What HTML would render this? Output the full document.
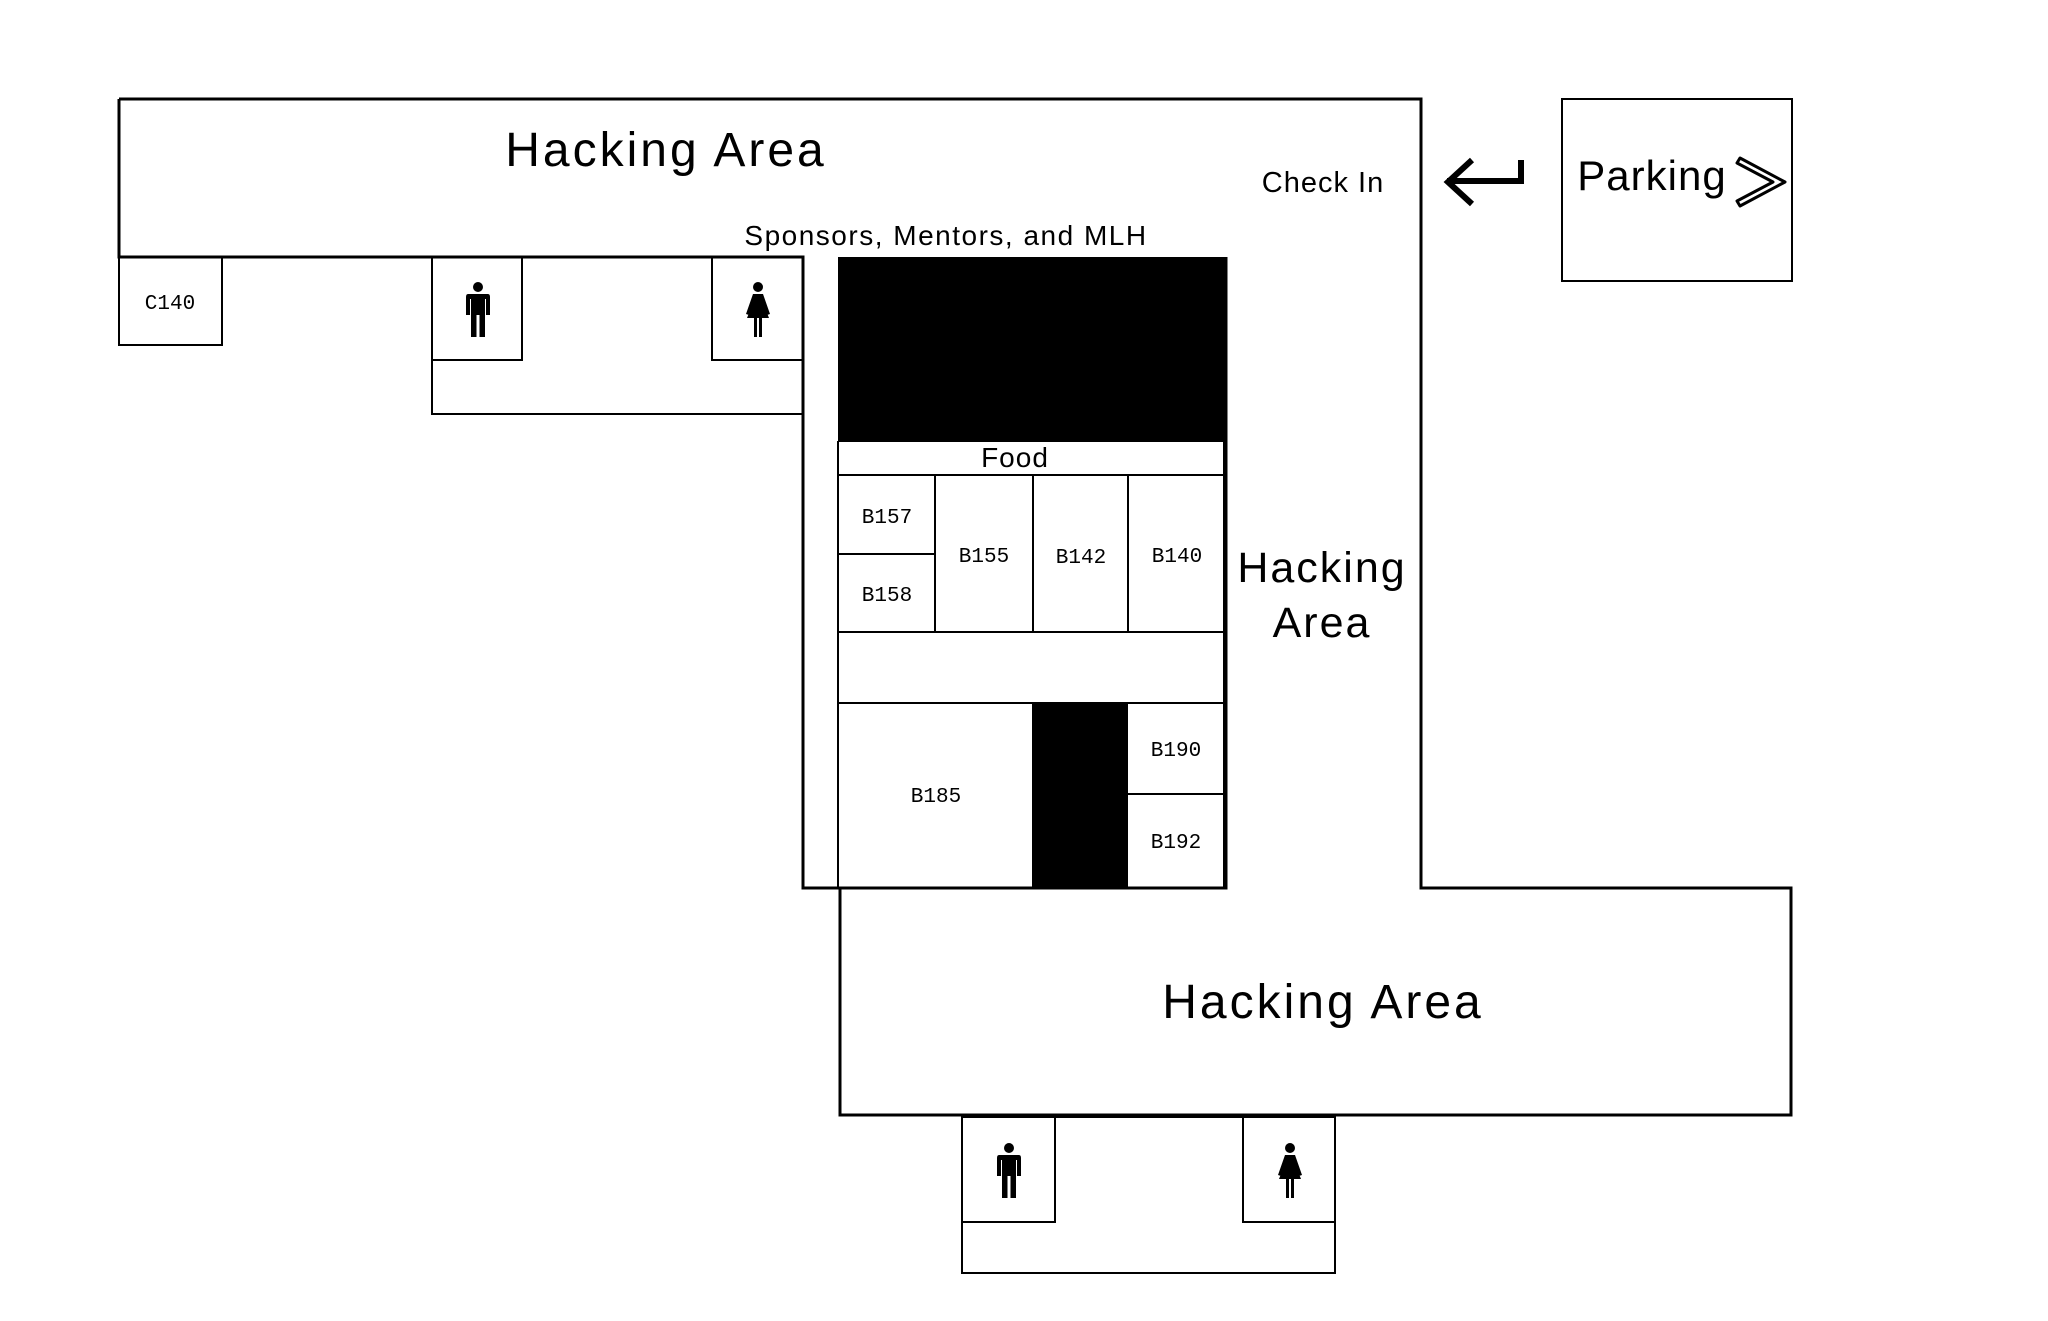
<!DOCTYPE html>
<html><head><meta charset="utf-8"><style>
html,body{margin:0;padding:0;background:#fff;}
svg{display:block;}
text{font-family:"Liberation Sans",sans-serif;fill:#000;}
.m{font-family:"Liberation Mono",monospace;font-size:21px;}
</style></head><body>
<svg width="2048" height="1321" viewBox="0 0 2048 1321" xmlns="http://www.w3.org/2000/svg">
<defs>
<g id="man">
<circle cx="0" cy="-22" r="5"/>
<path d="M-10,-15 H10 Q12,-15 12,-12 V6 H8 V-10 H7 V28 H1.5 V6 H-1.5 V28 H-7 V-10 H-8 V6 H-12 V-12 Q-12,-15 -10,-15Z"/>
</g>
<g id="woman">
<circle cx="0" cy="-22" r="5"/>
<path d="M-5,-15 H5 L12,5 L9,6 L5,-6 L11,9 H4 V28 H1 V9 H-1 V28 H-4 V9 H-11 L-5,-6 L-9,6 L-12,5 Z"/>
</g>
</defs>
<g fill="none" stroke="#000" stroke-width="3">
<path d="M119,99 H1421 V888 H1791 V1115 H840 V888"/>
<path d="M119,99 V257 H803 V888 H1226 V257"/>
<rect x="1562" y="99" width="230" height="182" stroke-width="2"/>
</g>
<g fill="none" stroke="#000" stroke-width="2">
<rect x="119" y="257" width="103" height="88"/>
<rect x="432" y="257" width="90" height="103"/>
<rect x="712" y="257" width="91" height="103"/>
<path d="M432,360 V414 H803"/>
<rect x="962" y="1117" width="373" height="156"/>
<rect x="962" y="1117" width="93" height="105"/>
<rect x="1243" y="1117" width="92" height="105"/>
<path d="M838,441 H1224 V888"/>
<path d="M838,475 H1224 M838,441 V888 M838,632 H1224 M838,703 H1224 M838,554 H935"/>
<path d="M935,475 V632 M1033,475 V632 M1128,475 V632"/>
<path d="M1033,703 V887 M1127,703 V887 M1127,794 H1224"/>
</g>
<rect x="838" y="257" width="388" height="184" fill="#000"/>
<rect x="1033" y="703" width="94" height="184" fill="#000"/>
<use href="#man" x="478" y="309"/>
<use href="#woman" x="758" y="309"/>
<use href="#man" x="1009" y="1170"/>
<use href="#woman" x="1290" y="1170"/>
<path d="M1521,160 V181 H1447 M1472,160 L1448,182 L1472,204" fill="none" stroke="#000" stroke-width="6"/>
<path d="M1740,158 L1785,182 L1740,206 L1737,201 L1773,182 L1737,163 Z" fill="none" stroke="#000" stroke-width="3" stroke-linejoin="round"/>
<g text-anchor="middle">
<text x="666" y="166" font-size="48" letter-spacing="3">Hacking Area</text>
<text x="1323" y="192" font-size="29" letter-spacing="1">Check In</text>
<text x="946" y="245" font-size="28" letter-spacing="1.5">Sponsors, Mentors, and MLH</text>
<text x="1322" y="582" font-size="43" letter-spacing="2">Hacking</text>
<text x="1322" y="637" font-size="43" letter-spacing="2">Area</text>
<text x="1323" y="1018" font-size="48" letter-spacing="3">Hacking Area</text>
<text x="1015" y="467" font-size="28" letter-spacing="1">Food</text>
<text x="1652" y="190" font-size="42" letter-spacing="1">Parking</text>
<text class="m" x="170" y="309">C140</text>
<text class="m" x="887" y="523">B157</text>
<text class="m" x="887" y="601">B158</text>
<text class="m" x="984" y="562">B155</text>
<text class="m" x="1081" y="563">B142</text>
<text class="m" x="1177" y="562">B140</text>
<text class="m" x="936" y="802">B185</text>
<text class="m" x="1176" y="756">B190</text>
<text class="m" x="1176" y="848">B192</text>
</g>
</svg>
</body></html>
